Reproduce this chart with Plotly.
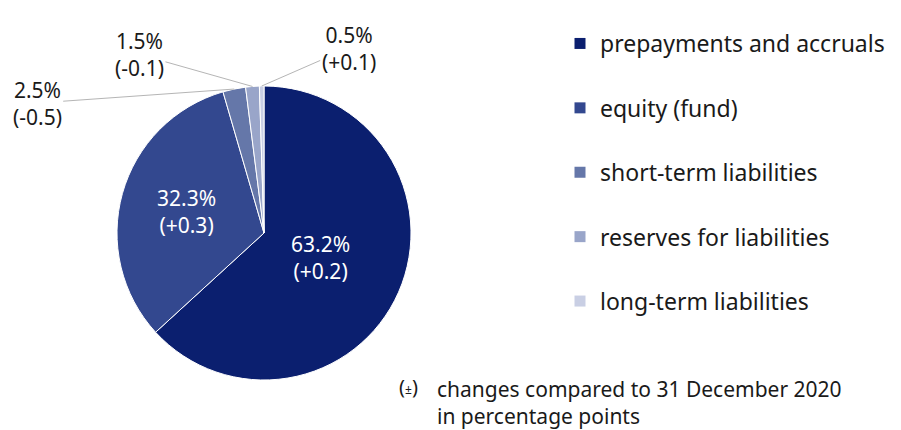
import math
import plotly.graph_objects as go

labels = ["prepayments and accruals", "equity (fund)", "short-term liabilities",
          "reserves for liabilities", "long-term liabilities"]
shares = [63.2, 32.3, 2.5, 1.5, 0.5]
changes = ["+0.2", "+0.3", "-0.5", "-0.1", "+0.1"]
colors = ["#0b1f6f", "#33488f", "#6577a9", "#99a5c9", "#c9cfe4"]

W, H = 901, 430
OFF = 8  # browser default body margin
cx, cy, R = 264 - OFF, 233 - OFF, 147  # pie centre / radius in figure pixels
FONT = "Noto Sans"
TXT = "#1a1a1a"

def px(x):
    return (x - OFF) / W

def py(y):
    return 1 - (y - OFF) / H

fig = go.Figure()
fig.add_trace(go.Pie(
    labels=labels, values=shares, sort=False, direction="clockwise", rotation=0,
    marker=dict(colors=colors, line=dict(color="white", width=1)),
    textinfo="none", hoverinfo="label+percent", showlegend=False,
    domain=dict(x=[(cx - R) / W, (cx + R) / W], y=[1 - (cy + R) / H, 1 - (cy - R) / H]),
))

# legend entries
for lab, col in zip(labels, colors):
    fig.add_trace(go.Scatter(x=[None], y=[None], mode="markers", name=lab, legendgroup=lab,
                             marker=dict(symbol="square", size=11, color=col)))

total = sum(shares)
cum = 0
mids = []
for v in shares:
    mids.append((cum + v / 2) / total * 2 * math.pi)
    cum += v

def pt(theta, r):
    return (cx + r * math.sin(theta)) / W, 1 - (cy - r * math.cos(theta)) / H

annotations = []
# inside labels (large slices)
inside_frac = [0.42, 0.55]
for i, f in enumerate(inside_frac):
    x, y = pt(mids[i], f * R)
    annotations.append(dict(x=x, y=y, xref="paper", yref="paper", showarrow=False,
                            xanchor="center", yanchor="middle",
                            text=f"{shares[i]}%<br>({changes[i]})",
                            font=dict(family=FONT, size=21, color="white")))
# outside labels (small slices) with leader lines
offsets = {2: (-197, 14), 3: (-113, -32), 4: (87, -38)}
for i, (ax, ay) in offsets.items():
    x, y = pt(mids[i], R)
    annotations.append(dict(x=x, y=y, xref="paper", yref="paper", showarrow=True,
                            ax=ax, ay=ay, arrowhead=0, arrowwidth=1, arrowcolor="#b5b5b5",
                            text=f"{shares[i]}%<br>({changes[i]})",
                            font=dict(family=FONT, size=21, color=TXT)))
# footnote
annotations.append(dict(x=px(397), y=py(386), xref="paper", yref="paper", showarrow=False,
                        xanchor="left", yanchor="middle",
                        text="(<span style='font-size:12px'>±</span>)",
                        font=dict(family=FONT, size=20, color=TXT)))
annotations.append(dict(x=px(435), y=py(373), xref="paper", yref="paper", showarrow=False,
                        xanchor="left", yanchor="top", align="left",
                        text="changes compared to 31 December 2020<br>in percentage points",
                        font=dict(family=FONT, size=21, color=TXT)))

fig.update_layout(
    width=W, height=H, margin=dict(l=0, r=0, t=0, b=0),
    paper_bgcolor="white", plot_bgcolor="white",
    xaxis=dict(visible=False), yaxis=dict(visible=False),
    annotations=annotations,
    legend=dict(x=px(560), y=py(22), xanchor="left", yanchor="top",
                traceorder="grouped", tracegroupgap=31.5,
                font=dict(family=FONT, size=23, color=TXT), itemclick=False),
)
fig.write_html("out.html")
